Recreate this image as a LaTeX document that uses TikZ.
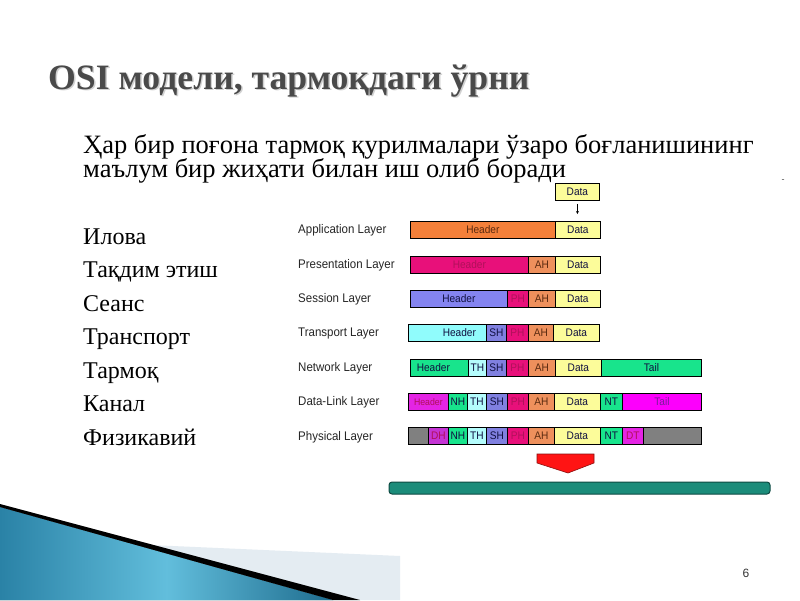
\documentclass[tikz,border=0pt]{standalone}
\usepackage{fontspec}
\setmainfont{Liberation Serif}
\newfontfamily\lsans[FakeStretch=0.92]{Liberation Sans}
\newfontfamily\wsans{Liberation Sans}
\usetikzlibrary{arrows.meta}
\definecolor{cOrange}{HTML}{F4803A}
\definecolor{cData}{HTML}{FCFC9A}
\definecolor{cPink}{HTML}{E8107A}
\definecolor{cAH}{HTML}{EE905C}
\definecolor{cLav}{HTML}{8484F0}
\definecolor{cCyan}{HTML}{90FCFC}
\definecolor{cSH}{HTML}{8080E0}
\definecolor{cGreen}{HTML}{18E48C}
\definecolor{cTH}{HTML}{B4FCFC}
\definecolor{cMag}{HTML}{E424E4}
\definecolor{cTail}{HTML}{FC00FC}
\definecolor{cGray}{HTML}{808080}
\definecolor{cDH}{HTML}{C434D4}
\definecolor{tPink}{HTML}{B0105A}
\definecolor{tPurple}{HTML}{7A1A9A}
\definecolor{tBrown}{HTML}{5A2A10}
\definecolor{tNavy}{HTML}{101040}
\definecolor{cTeal}{HTML}{1B8C7A}
\definecolor{cTealD}{HTML}{0E4A42}
\definecolor{cTitle}{HTML}{4A4A4A}
\definecolor{bL}{HTML}{2A82A6}
\definecolor{bM}{HTML}{62BEDC}
\definecolor{bR}{HTML}{1E6C8E}
\definecolor{bandC}{HTML}{E4ECF2}
\definecolor{redF}{HTML}{FF1414}
\definecolor{redD}{HTML}{8A1010}
\tikzset{
  segbox/.style={draw=black, line width=0.8pt, inner sep=0pt, minimum height=17pt,
    font=\lsans\fontsize{11}{11}\selectfont},
  layerlbl/.style={anchor=west, inner sep=0pt, font=\lsans\fontsize{12.5}{12.5}\selectfont, text=black!85},
  listtxt/.style={anchor=base west, inner sep=0pt, font=\fontsize{24}{24}\selectfont, text=black},
  bodytxt/.style={anchor=base west, inner sep=0pt, font=\fontsize{26.5}{26.5}\selectfont, text=black},
  titletxt/.style={anchor=base west, inner sep=0pt, font=\bfseries\fontsize{35.7}{35.7}\selectfont}
}
\newcommand\seg[7]{\node[segbox,fill=#5,text=#6,minimum width={#3pt-#2pt},anchor=north west] (#1) at (#2,#4) {#7};}
\begin{document}
\begin{tikzpicture}[x=1pt,y=-1pt]
\useasboundingbox (0,0) rectangle (800,600);
\fill[white] (0,0) rectangle (800,600);
% bottom-left decoration
\fill[left color=bL, right color=bR, middle color=bM] (0,507) -- (333,600) -- (0,600) -- cycle;
\fill[bandC] (150,545) -- (400,556) -- (400,600) -- (360,600) -- cycle;
\fill[black] (0,504) -- (360,600) -- (333,600) -- (0,507) -- cycle;
% title
\node[titletxt, text=black!18] (titsh) at (49.5,90.5) {OSI модели, тармоқдаги ўрни};
\node[titletxt, text=cTitle] (title) at (48,89) {OSI модели, тармоқдаги ўрни};
% body
\node[bodytxt] (b1) at (83,153) {Ҳар бир поғона тармоқ қурилмалари ўзаро боғланишининг};
\node[bodytxt] (b2) at (83,177) {маълум бир жиҳати билан иш олиб боради};
% list
\node[listtxt] (l1) at (83,244) {Илова};
\node[listtxt] (l2) at (83,277) {Тақдим этиш};
\node[listtxt] (l3) at (83,311) {Сеанс};
\node[listtxt] (l4) at (83,344) {Транспорт};
\node[listtxt] (l5) at (83,378) {Тармоқ};
\node[listtxt] (l6) at (83,411) {Канал};
\node[listtxt] (l7) at (83,445) {Физикавий};
% layer labels
\node[layerlbl] (n1) at (298,230) {Application Layer};
\node[layerlbl] (n2) at (298,265) {Presentation Layer};
\node[layerlbl] (n3) at (298,299) {Session Layer};
\node[layerlbl] (n4) at (298,333) {Transport Layer};
\node[layerlbl] (n5) at (298,368) {Network Layer};
\node[layerlbl] (n6) at (298,402) {Data-Link Layer};
\node[layerlbl] (n7) at (298,437) {Physical Layer};
% data on top
\seg{d0}{555}{599}{183}{cData}{tNavy}{Data}
% application
\seg{a0}{410}{555}{221}{cOrange}{tBrown}{Header}
\seg{a1}{555}{600}{221}{cData}{tNavy}{Data}
\draw[-{Stealth[length=3pt,width=3pt]}, line width=0.6pt, shorten <=3pt, shorten >=7pt] (d0.south) -- (d0.south |- a1.north);
% presentation
\seg{p0}{410}{528}{256}{cPink}{tPink}{Header}
\seg{p1}{528}{555}{256}{cAH}{tBrown}{AH}
\seg{p2}{555}{600}{256}{cData}{tNavy}{Data}
% session
\seg{s0}{410}{507}{290}{cLav}{tNavy}{Header}
\seg{s1}{507}{528}{290}{cPink}{tPink}{PH}
\seg{s2}{528}{555}{290}{cAH}{tBrown}{AH}
\seg{s3}{555}{600}{290}{cData}{tNavy}{Data}
% transport
\seg{t0}{408}{486}{324}{cCyan}{tNavy}{\hspace*{24pt}Header}
\seg{t1}{486}{506}{324}{cSH}{tNavy}{SH}
\seg{t2}{506}{528}{324}{cPink}{tPink}{PH}
\seg{t3}{528}{553}{324}{cAH}{tBrown}{AH}
\seg{t4}{553}{599}{324}{cData}{tNavy}{Data}
% network
\seg{w0}{410}{468}{359}{cGreen}{tNavy}{Header\hspace*{12pt}}
\seg{w1}{468}{486}{359}{cTH}{tNavy}{TH}
\seg{w2}{486}{506}{359}{cSH}{tNavy}{SH}
\seg{w3}{506}{528}{359}{cPink}{tPink}{PH}
\seg{w4}{528}{555}{359}{cAH}{tBrown}{AH}
\seg{w5}{555}{601}{359}{cData}{tNavy}{Data}
\seg{w6}{601}{701}{359}{cGreen}{tNavy}{Tail}
% data-link
\seg{k0}{408}{448}{393}{cMag}{tPink}{\fontsize{9.5}{9.5}\selectfont Header}
\seg{k1}{448}{467}{393}{cGreen}{tNavy}{NH}
\seg{k2}{467}{486}{393}{cTH}{tNavy}{TH}
\seg{k3}{486}{507}{393}{cSH}{tNavy}{SH}
\seg{k4}{507}{528}{393}{cPink}{tPink}{PH}
\seg{k5}{528}{554}{393}{cAH}{tBrown}{AH}
\seg{k6}{554}{600}{393}{cData}{tNavy}{Data}
\seg{k7}{600}{622}{393}{cGreen}{tNavy}{NT}
\seg{k8}{622}{701}{393}{cTail}{tPurple}{Tail}
% physical
\seg{h0}{408}{428}{427}{cGray}{tNavy}{}
\seg{h1}{428}{448}{427}{cDH}{tPink}{DH}
\seg{h2}{448}{467}{427}{cGreen}{tNavy}{NH}
\seg{h3}{467}{486}{427}{cTH}{tNavy}{TH}
\seg{h4}{486}{507}{427}{cSH}{tNavy}{SH}
\seg{h5}{507}{528}{427}{cPink}{tPink}{PH}
\seg{h6}{528}{554}{427}{cAH}{tBrown}{AH}
\seg{h7}{554}{600}{427}{cData}{tNavy}{Data}
\seg{h8}{600}{622}{427}{cGreen}{tNavy}{NT}
\seg{h9}{622}{643}{427}{cMag}{tPink}{DT}
\seg{h10}{643}{701}{427}{cGray}{tNavy}{}
% red arrow
\filldraw[fill=redF, draw=redD, line width=0.6pt] (537,454) -- (594,454) -- (594,463) -- (568,473) -- (537,463) -- cycle;
% teal bar
\filldraw[fill=cTeal, draw=cTealD, line width=1pt, rounded corners=3pt] (389,482) rectangle (770,494);
% dash and page number
\node[inner sep=0pt, font=\wsans\fontsize{9}{9}\selectfont, text=black!70] (dash) at (783,181) {-};
\node[inner sep=0pt, font=\wsans\fontsize{12}{12}\selectfont, text=black!80] (pg) at (746,573) {6};
\end{tikzpicture}
\end{document}
